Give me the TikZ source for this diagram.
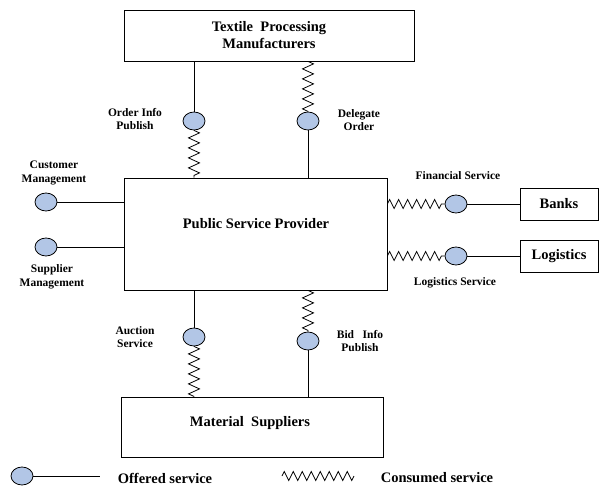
\documentclass[tikz,border=0pt]{standalone}
\usepackage{fontspec}
\setmainfont{Liberation Serif}
\usetikzlibrary{shapes.geometric,decorations.pathmorphing}
\definecolor{svcblue}{RGB}{178,198,230}
\tikzset{
  box/.style={draw, line width=0.8pt, font=\bfseries\fontsize{14.5}{17}\selectfont, align=center, inner sep=0pt},
  boxtxt/.style={font=\bfseries\fontsize{14.5}{17}\selectfont, inner sep=0pt},
  svc/.style={ellipse, draw, line width=0.8pt, fill=svcblue, minimum width=22pt, minimum height=18pt, inner sep=0pt},
  lbl/.style={font=\bfseries\fontsize{11.5}{13.5}\selectfont, align=center, inner sep=0pt},
  legtxt/.style={font=\bfseries\fontsize{14.5}{17}\selectfont, inner sep=0pt},
  conn/.style={line width=0.8pt},
  zz/.style={line width=0.8pt, decorate, decoration={zigzag, segment length=10pt, amplitude=5.5pt}},
  zzh/.style={line width=0.8pt, decorate, decoration={zigzag, segment length=9pt, amplitude=4.5pt}},
}
\begin{document}
\begin{tikzpicture}[x=1pt,y=-1pt]
\useasboundingbox (0,0) rectangle (600,487);
% boxes
\node[box, minimum width=290pt, minimum height=51pt] (tpm) at (269,35.5) {Textile\ \ Processing\\Manufacturers};
\node[box, minimum width=263pt, minimum height=112pt] (psp) at (255.5,234) {};
\node[boxtxt] (psptxt) at (256,224) {Public Service Provider};
\node[box, minimum width=262pt, minimum height=60pt] (ms) at (252,427) {};
\node[boxtxt] (mstxt) at (250,423) {Material\ \ Suppliers};
\node[box, minimum width=78pt, minimum height=32pt] (banks) at (559,204) {Banks};
\node[box, minimum width=78pt, minimum height=32pt] (logi) at (559,256) {Logistics};
% service circles
\node[svc] (oip) at (194,121) {};
\node[svc] (dord) at (308,121) {};
\node[svc] (cm) at (46,202) {};
\node[svc] (sm) at (46,247) {};
\node[svc] (fin) at (456,204) {};
\node[svc] (lsv) at (456,256) {};
\node[svc] (auc) at (194,337) {};
\node[svc] (bid) at (308,341) {};
% labels
\node[lbl] (l1) at (135,119) {Order Info\\Publish};
\node[lbl] (l2) at (359,120) {Delegate\\Order};
\node[lbl] (l3) at (54,173) {Customer\\Management};
\node[lbl] (l4) at (52,277) {Supplier\\Management};
\node[lbl] (l5) at (458,176) {Financial Service};
\node[lbl] (l6) at (455,283) {Logistics Service};
\node[lbl] (l7) at (135,337) {Auction\\Service};
\node[lbl] (l8) at (360,341) {Bid\ \ \ Info\\Publish};
% connectors top
\draw[conn] (tpm.south -| oip) -- (oip.north);
\draw[zz] (oip.south) -- (psp.north -| oip);
\draw[zz] (tpm.south -| dord) -- (dord.north);
\draw[conn] (dord.south) -- (psp.north -| dord);
% left
\draw[conn] (cm.east) -- (psp.west |- cm);
\draw[conn] (sm.east) -- (psp.west |- sm);
% right
\draw[zzh] (psp.east |- fin) -- (fin.west);
\draw[conn] (fin.east) -- (banks.west |- fin);
\draw[zzh] (psp.east |- lsv) -- (lsv.west);
\draw[conn] (lsv.east) -- (logi.west |- lsv);
% bottom
\draw[conn] (psp.south -| auc) -- (auc.north);
\draw[zz] (auc.south) -- (ms.north -| auc);
\draw[zz] (psp.south -| bid) -- (bid.north);
\draw[conn] (bid.south) -- (ms.north -| bid);
% legend
\node[svc] (lgc) at (22,476) {};
\coordinate (lge) at (100,476);
\draw[conn] (lgc.east) -- (lge);
\node[legtxt] (lgt1) at (165,478) {Offered service};
\coordinate (zs) at (282,476);
\coordinate (ze) at (354,476);
\draw[zzh] (zs) -- (ze);
\node[legtxt] (lgt2) at (437,478) {Consumed service};
\end{tikzpicture}
\end{document}
